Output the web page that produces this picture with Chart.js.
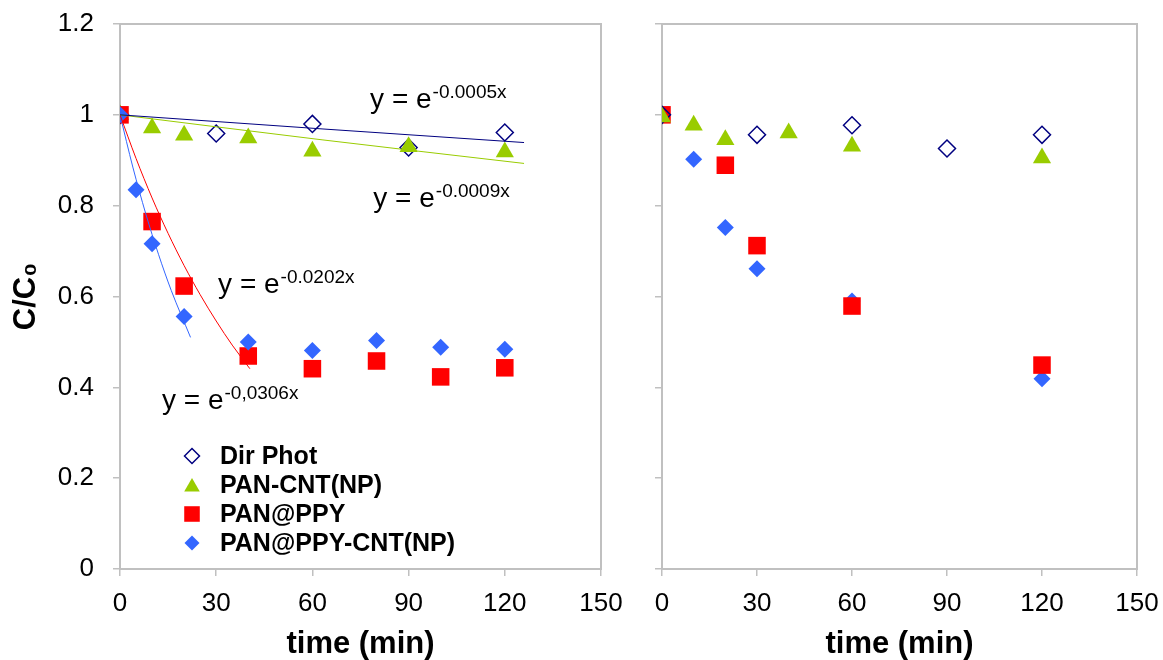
<!DOCTYPE html>
<html>
<head>
<meta charset="utf-8">
<script src="https://cdn.jsdelivr.net/npm/chart.js@4/dist/chart.umd.min.js"></script>
<style>
  html, body { margin: 0; padding: 0; background: #fff; }
  #wrap { position: relative; width: 1163px; height: 660px; overflow: hidden; }
  #left { position: absolute; left: 0; top: 0; }
  #right { position: absolute; left: 632px; top: 0; }
</style>
</head>
<body>
<div id="wrap">
  <canvas id="left" width="630" height="660"></canvas>
  <canvas id="right" width="531" height="660"></canvas>
</div>
<script>
// ticks
const timeTicks = [0, 30, 60, 90, 120, 150];
const ratioTicks = [0, 0.2, 0.4, 0.6, 0.8, 1, 1.2];
const seriesNames = ['Dir Phot', 'PAN-CNT(NP)', 'PAN@PPY', 'PAN@PPY-CNT(NP)'];

// left panel, measured points
const dirPhotT = [0, 30, 60, 90, 120];
const dirPhotC = [1, 0.959, 0.98, 0.928, 0.961];
const panCntT = [0, 10, 20, 40, 60, 90, 120];
const panCntC = [1, 0.971, 0.955, 0.949, 0.92, 0.93, 0.918];
const panPpyT = [0, 10, 20, 40, 60, 80, 100, 120];
const panPpyC = [1, 0.765, 0.623, 0.469, 0.441, 0.458, 0.423, 0.443];
const panPpyCntT = [0, 5, 10, 20, 40, 60, 80, 100, 120];
const panPpyCntC = [1, 0.835, 0.716, 0.556, 0.5, 0.481, 0.503, 0.488, 0.484];

// left panel, exponential fits (y = e^-kx) as drawn
const fitSup = ['-0.0005x', '-0.0009x', '-0.0202x', '-0,0306x'];
const dirPhotFitT = [0, 63, 126];
const dirPhotFitC = [1, 0.969, 0.939];
const panCntFitT = [0, 63, 126];
const panCntFitC = [1, 0.945, 0.893];
const panPpyFitT = [0, 5, 10, 15, 20, 25, 30, 35, 40.5];
const panPpyFitC = [1, 0.904, 0.817, 0.739, 0.668, 0.604, 0.546, 0.493, 0.441];
const panPpyCntFitT = [0, 4, 8, 12, 16, 22];
const panPpyCntFitC = [1, 0.885, 0.783, 0.693, 0.613, 0.51];

// right panel
const dirPhotT2 = [0, 30, 60, 90, 120];
const dirPhotC2 = [1, 0.956, 0.977, 0.926, 0.956];
const panCntT2 = [0, 10, 20, 40, 60, 120];
const panCntC2 = [0.995, 0.977, 0.945, 0.96, 0.931, 0.905];
const panPpyT2 = [0, 20, 30, 60, 120];
const panPpyC2 = [1, 0.889, 0.712, 0.579, 0.449];
const panPpyCntT2 = [0, 10, 20, 30, 60, 120];
const panPpyCntC2 = [1, 0.902, 0.752, 0.661, 0.59, 0.419];

const FONT = "'Liberation Sans', Arial, sans-serif";
const NAVY = '#000080', GREEN = '#99cc00', RED = '#ff0000', BLUE = '#3366ff';
const AXIS = '#c0c0c0';

function pts(t, c) { return t.map((x, i) => ({ x: x, y: c[i] })); }

const markerStyle = [
  { pointStyle: 'rectRot', pointRadius: 8.5, backgroundColor: 'rgba(0,0,0,0)', borderColor: NAVY, borderWidth: 1.5 },
  { pointStyle: 'triangle', pointRadius: 10.5, backgroundColor: GREEN, borderColor: GREEN, borderWidth: 0 },
  { pointStyle: 'rect', pointRadius: 12.4, backgroundColor: RED, borderColor: RED, borderWidth: 0 },
  { pointStyle: 'rectRot', pointRadius: 8.5, backgroundColor: BLUE, borderColor: BLUE, borderWidth: 0 }
];

function markers(i, data, order) {
  return Object.assign({ label: seriesNames[i], data: data, showLine: false, order: order, pointHoverRadius: 0 }, markerStyle[i]);
}
function fitLine(color, data) {
  return { label: 'fit', data: data, showLine: true, pointRadius: 0, borderColor: color, borderWidth: 1,
           cubicInterpolationMode: 'monotone', fill: false, order: 0 };
}

// gray box round the plot area
const framePlugin = {
  id: 'frame',
  beforeDatasetsDraw(chart) {
    const a = chart.chartArea, ctx = chart.ctx;
    ctx.save();
    ctx.strokeStyle = AXIS;
    ctx.lineWidth = 2;
    ctx.strokeRect(a.left, a.top, a.right - a.left, a.bottom - a.top);
    ctx.restore();
  }
};

// fit equations, anchored in data units
const equations = [
  { x: 78, y: 1.015, sup: fitSup[0] },
  { x: 79, y: 0.797, sup: fitSup[1] },
  { x: 30.6, y: 0.608, sup: fitSup[2] },
  { x: 13.1, y: 0.352, sup: fitSup[3] }
];
const equationPlugin = {
  id: 'equations',
  afterDatasetsDraw(chart) {
    const ctx = chart.ctx, xs = chart.scales.x, ys = chart.scales.y;
    ctx.save();
    ctx.fillStyle = '#000';
    ctx.textBaseline = 'alphabetic';
    equations.forEach(eq => {
      const px = xs.getPixelForValue(eq.x), py = ys.getPixelForValue(eq.y);
      ctx.font = '28px ' + FONT;
      ctx.fillText('y = e', px, py);
      const w = ctx.measureText('y = e').width;
      ctx.font = '19px ' + FONT;
      ctx.fillText(eq.sup, px + w + 1, py - 10);
    });
    ctx.restore();
  }
};

function drawMarker(ctx, style, r, x, y, fill, stroke, lw) {
  ctx.beginPath();
  if (style === 'rectRot') {
    ctx.moveTo(x - r, y); ctx.lineTo(x, y - r); ctx.lineTo(x + r, y); ctx.lineTo(x, y + r);
  } else if (style === 'triangle') {
    ctx.moveTo(x, y - r); ctx.lineTo(x + r * 0.866, y + r * 0.5); ctx.lineTo(x - r * 0.866, y + r * 0.5);
  } else {
    const s = r * Math.SQRT1_2;
    ctx.rect(x - s, y - s, 2 * s, 2 * s);
  }
  ctx.closePath();
  ctx.fillStyle = fill; ctx.fill();
  if (lw > 0) { ctx.strokeStyle = stroke; ctx.lineWidth = lw; ctx.stroke(); }
}

// legend in the lower left of the first panel
const legendPlugin = {
  id: 'boxLegend',
  afterDraw(chart) {
    const ctx = chart.ctx, a = chart.chartArea;
    const legendR = [7.5, 9, 11, 7.5];
    ctx.save();
    ctx.font = 'bold 25px ' + FONT;
    ctx.textBaseline = 'middle';
    seriesNames.forEach((name, i) => {
      const y = a.bottom - 113 + i * 29;
      const m = markerStyle[i];
      drawMarker(ctx, m.pointStyle, legendR[i], a.left + 72, i === 1 ? y + 2 : y, m.backgroundColor, m.borderColor, m.borderWidth);
      ctx.fillStyle = '#000';
      ctx.fillText(name, a.left + 100, y + 1);
    });
    ctx.restore();
  }
};

function scales(yWidth, showYLabels) {
  const tickFont = { family: FONT, size: 26 };
  const titleFont = { family: FONT, size: 31, weight: 'bold', lineHeight: 1 };
  return {
    x: {
      type: 'linear', min: 0, max: 150,
      afterBuildTicks: s => { s.ticks = timeTicks.map(v => ({ value: v })); },
      afterFit: s => { s.height = 91; s.paddingLeft = 0; s.paddingRight = 0; },
      ticks: { font: tickFont, color: '#000', padding: 12, maxRotation: 0 },
      grid: { drawOnChartArea: false, tickLength: 7, color: AXIS, lineWidth: 1.5 },
      border: { color: AXIS, width: 2 },
      title: { display: true, text: 'time (min)', font: titleFont, color: '#000', padding: { top: 0, bottom: 0 } }
    },
    y: {
      type: 'linear', min: 0, max: 1.2,
      afterBuildTicks: s => { s.ticks = ratioTicks.map(v => ({ value: v })); },
      afterFit: s => { s.width = yWidth; s.paddingTop = 0; s.paddingBottom = 0; },
      ticks: { display: showYLabels, font: tickFont, color: '#000', padding: 19,
               callback: (v) => String(v) },
      grid: { drawOnChartArea: false, tickLength: 7, color: AXIS, lineWidth: 1.5 },
      border: { color: AXIS, width: 2 },
      title: { display: showYLabels, text: 'C/C\u2080', font: titleFont, color: '#000', padding: { top: 11, bottom: 0 } }
    }
  };
}

const common = {
  responsive: false,
  animation: false,
  plugins: { legend: { display: false }, tooltip: { enabled: false } },
  events: []
};

new Chart(document.getElementById('left'), {
  type: 'scatter',
  data: {
    datasets: [
      fitLine(NAVY, pts(dirPhotFitT, dirPhotFitC)),
      fitLine(GREEN, pts(panCntFitT, panCntFitC)),
      fitLine(RED, pts(panPpyFitT, panPpyFitC)),
      fitLine(BLUE, pts(panPpyCntFitT, panPpyCntFitC)),
      markers(0, pts(dirPhotT, dirPhotC), 4),
      markers(1, pts(panCntT, panCntC), 3),
      markers(2, pts(panPpyT, panPpyC), 2),
      markers(3, pts(panPpyCntT, panPpyCntC), 1)
    ]
  },
  options: Object.assign({}, common, {
    layout: { padding: { top: 24, right: 29, bottom: 0, left: 0 } },
    scales: scales(120, true)
  }),
  plugins: [framePlugin, equationPlugin, legendPlugin]
});

new Chart(document.getElementById('right'), {
  type: 'scatter',
  data: {
    datasets: [
      markers(0, pts(dirPhotT2, dirPhotC2), 2),
      markers(1, pts(panCntT2, panCntC2), 1),
      markers(2, pts(panPpyT2, panPpyC2), 3),
      markers(3, pts(panPpyCntT2, panPpyCntC2), 4)
    ]
  },
  options: Object.assign({}, common, {
    layout: { padding: { top: 24, right: 26, bottom: 0, left: 0 } },
    scales: scales(30, false)
  }),
  plugins: [framePlugin]
});
</script>
</body>
</html>
